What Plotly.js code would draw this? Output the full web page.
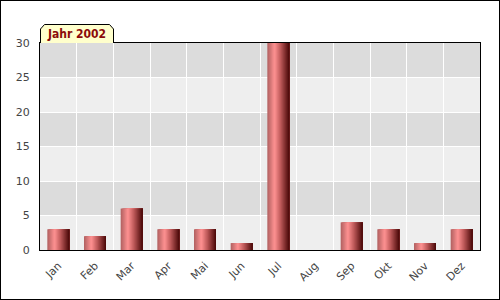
<!DOCTYPE html>
<html>
<head>
<meta charset="utf-8">
<script src="https://cdn.plot.ly/plotly-3.0.1.min.js"></script>
<style>
html,body{margin:0;padding:0;background:#fff;}
#wrap{position:relative;width:500px;height:300px;}
#chart{width:500px;height:300px;}
#frame{position:absolute;left:0;top:0;width:500px;height:300px;box-sizing:border-box;border:1px solid #000;pointer-events:none;}
</style>
</head>
<body>
<div id="wrap"><div id="chart"></div><div id="frame"></div></div>
<script>
// Data
var months = ["Jan","Feb","Mar","Apr","Mai","Jun","Jul","Aug","Sep","Okt","Nov","Dez"];
var values = [3, 2, 6, 3, 3, 1, 30, 0, 4, 3, 1, 3];
var yTicks = [0, 5, 10, 15, 20, 25, 30];
var chartTitle = "Jahr 2002";

// Layout geometry (pixels)
var W = 500, H = 300, L = 40, R = 20, T = 43, B = 50;
var pw = W - L - R, ph = H - T - B;
function px(x){ return (x - L) / pw; }
function py(y){ return (H - B - y) / ph; }

// gradient slices to emulate cylinder-shaded bars
var N = 24, barW = 0.6;
var stops = [[0, [176, 96, 96]], [0.33, [255, 146, 146]], [0.6, [190, 90, 90]], [1, [72, 6, 6]]];
function colorAt(t){
  for (var i = 0; i < stops.length - 1; i++){
    var a = stops[i], b = stops[i+1];
    if (t >= a[0] && t <= b[0]){
      var f = (t - a[0]) / (b[0] - a[0]);
      var c = a[1].map(function(v, k){ return Math.round(v + (b[1][k] - v) * f); });
      return 'rgb(' + c.join(',') + ')';
    }
  }
  return 'rgb(72,6,6)';
}
var traces = [];
for (var i = 0; i < N; i++){
  var off = -barW/2 + i * barW / N;
  traces.push({
    type: 'bar', x: months, y: values,
    offset: off, width: barW/2 - off,
    marker: {color: colorAt((i + 0.5) / N), line: {width: 0}},
    hoverinfo: 'skip', showlegend: false
  });
}

// background bands
var shapes = [];
for (var j = 0; j < yTicks.length - 1; j++){
  shapes.push({type: 'rect', layer: 'below', xref: 'paper', yref: 'y',
    x0: 0, x1: 1, y0: yTicks[j], y1: yTicks[j+1],
    fillcolor: (j % 2 === 0) ? '#eeeeee' : '#dcdcdc', line: {width: 0}});
}
// title tab
var tab = 'M ' + px(40.5) + ',' + py(43) + ' L ' + px(40.5) + ',' + py(29) +
  ' L ' + px(44.5) + ',' + py(24.5) + ' L ' + px(109.5) + ',' + py(24.5) +
  ' L ' + px(113.5) + ',' + py(29) + ' L ' + px(113.5) + ',' + py(43);
shapes.push({type: 'path', xref: 'paper', yref: 'paper', path: tab,
  fillcolor: '#ffffcc', line: {color: '#000', width: 1}, layer: 'above'});

var layout = {
  width: W, height: H,
  margin: {l: L, r: R, t: T, b: B, pad: 0},
  paper_bgcolor: 'rgba(0,0,0,0)', plot_bgcolor: '#eeeeee',
  barmode: 'overlay',
  showlegend: false,
  font: {family: 'DejaVu Sans, sans-serif', size: 11, color: '#444'},
  xaxis: {
    type: 'category', range: [-0.5, 11.5], tickson: 'boundaries',
    showgrid: true, gridcolor: '#ffffff', gridwidth: 1,
    showline: true, linecolor: '#000', linewidth: 1, mirror: true,
    ticks: '', tickangle: -45, ticklabelstandoff: 4, tickfont: {size: 11, color: '#444'},
    zeroline: false, fixedrange: true
  },
  yaxis: {
    range: [0, 30], tickvals: yTicks, ticktext: yTicks.map(String),
    showgrid: true, gridcolor: '#ffffff', gridwidth: 1,
    showline: true, linecolor: '#000', linewidth: 1, mirror: true,
    ticks: '', ticklabelstandoff: 7, tickfont: {size: 11, color: '#444'},
    zeroline: false, fixedrange: true
  },
  shapes: shapes,
  annotations: [{
    xref: 'paper', yref: 'paper', x: px(76), y: py(34),
    text: '<b>' + chartTitle + '</b>', showarrow: false,
    font: {family: 'DejaVu Sans Condensed, DejaVu Sans, sans-serif', size: 12, color: '#8b0a0a'},
    xanchor: 'center', yanchor: 'middle'
  }]
};
Plotly.newPlot('chart', traces, layout, {staticPlot: true, displayModeBar: false});
</script>
</body>
</html>
